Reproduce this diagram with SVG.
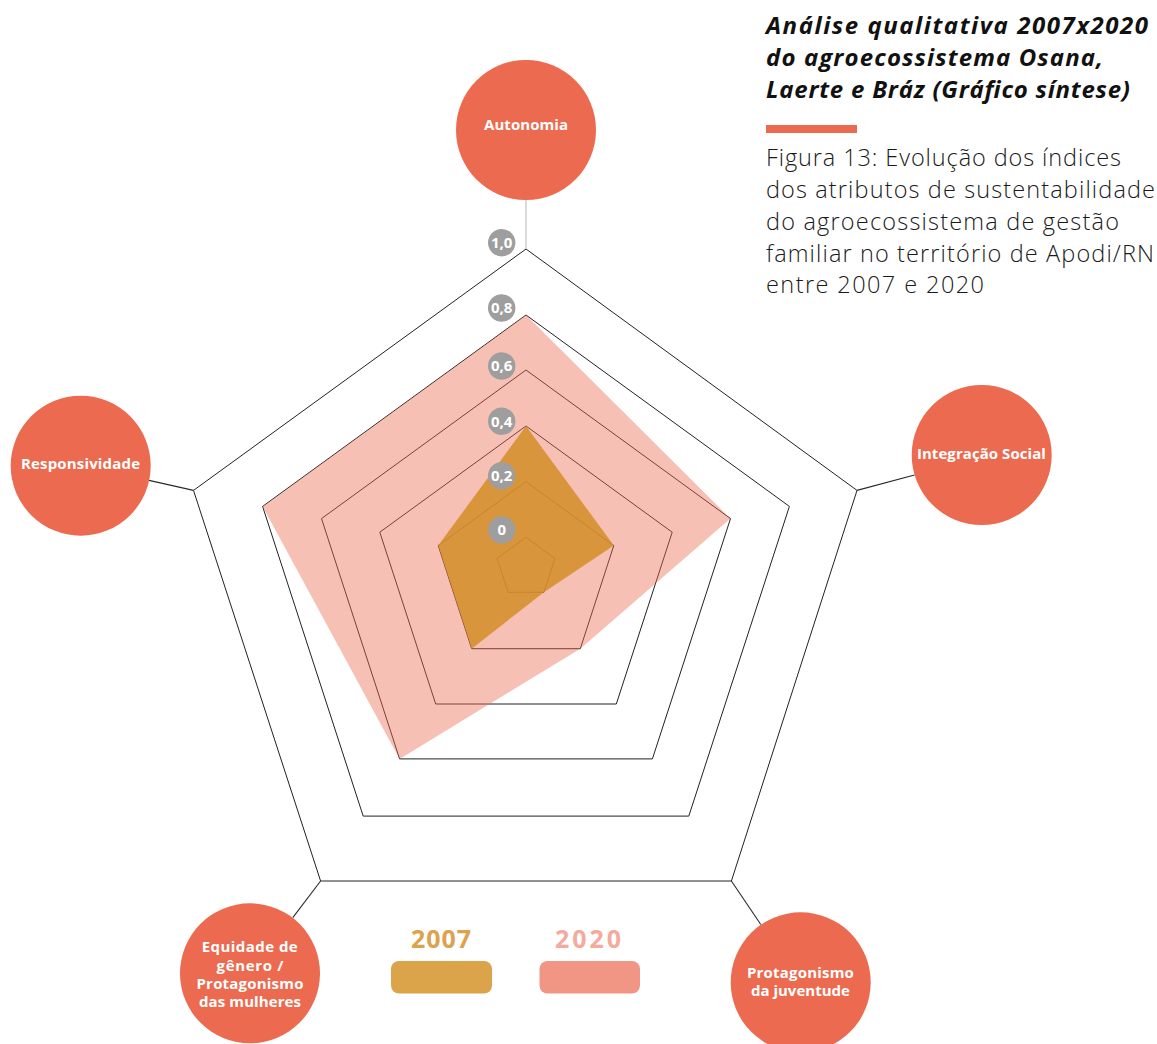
<svg xmlns="http://www.w3.org/2000/svg" width="1157" height="1044" viewBox="0 0 1157 1044">
  <style>
    .node circle { fill: #EC6A4F; }
    .node text { fill: #ffffff; font-family: "Open Sans", "Liberation Sans", sans-serif; font-weight: 700; font-size: 15px; text-anchor: middle; }
    .ring { fill: none; stroke: #222222; stroke-width: 1; stroke-linejoin: miter; }
    .conn { stroke: #2a2a2a; stroke-width: 1.1; fill: none; }
    .badge circle { fill: #9E9E9E; }
    .badge text { fill: #ffffff; font-family: "Open Sans", "Liberation Sans", sans-serif; font-weight: 700; font-size: 15px; text-anchor: middle; }
    .title { font-family: "Open Sans", "Liberation Sans", sans-serif; font-weight: 700; font-style: italic; font-size: 24px; fill: #111111; }
    .sub { font-family: "Open Sans", "Liberation Sans", sans-serif; font-weight: 300; font-size: 23.5px; fill: #1a1a1a; }
    .legend text { font-family: "Open Sans", "Liberation Sans", sans-serif; font-weight: 700; font-size: 25px; text-anchor: middle; }
  </style>

  <rect width="1157" height="1044" fill="#ffffff"/>

  <!-- heading -->
  <g id="heading">
    <text class="title" x="766" y="34" textLength="382">Análise qualitativa 2007x2020</text>
    <text class="title" x="766" y="66" textLength="337">do agroecossistema Osana,</text>
    <text class="title" x="766" y="98" textLength="364">Laerte e Bráz (Gráfico síntese)</text>
    <rect x="766" y="125" width="91" height="8" fill="#EC6A4F"/>
    <text class="sub" x="766" y="166" textLength="355">Figura 13: Evolução dos índices</text>
    <text class="sub" x="766" y="198" textLength="389">dos atributos de sustentabilidade</text>
    <text class="sub" x="766" y="230" textLength="353">do agroecossistema de gestão</text>
    <text class="sub" x="766" y="262" textLength="388">familiar no território de Apodi/RN</text>
    <text class="sub" x="766" y="293" textLength="218">entre 2007 e 2020</text>
  </g>

  <!-- rating grid: one pentagon per level -->
  <g id="grid">
    <polygon class="ring" points="526,537.3 554.9,558.3 543.9,592.3 508.1,592.3 497.1,558.3"/>
    <polygon class="ring" points="526,481.7 613.8,545.5 580.3,648.7 471.7,648.7 438.2,545.5"/>
    <polygon class="ring" points="526,426 672.2,532.2 616.3,704 435.7,704 379.8,532.2"/>
    <polygon class="ring" points="526,370 730.5,518.6 652.4,758.9 399.6,758.9 321.5,518.6"/>
    <polygon class="ring" points="526,315 789.4,506.4 688.8,816.1 363.2,816.1 262.6,506.4"/>
    <polygon class="ring" points="526,249 857,490.4 731.4,881 320.6,881 193.5,490.4"/>
  </g>

  <!-- data series -->
  <g id="series">
    <polygon id="s2020" points="526,315 730.5,518.6 580.3,648.7 399.6,758.9 262.6,506.4" fill="#EA6C52" fill-opacity="0.43"/>
    <polygon id="s2007" points="526,426 613.8,545.5 543.9,592.3 471.7,648.7 438.2,545.5" fill="#D58F29" fill-opacity="0.87"/>
  </g>

  <!-- connectors from the outer ring to the attribute nodes -->
  <g id="connectors">
    <line x1="526" y1="200" x2="526" y2="249" stroke="#BDBDBD" stroke-width="1.1"/>
    <line class="conn" x1="857" y1="490.4" x2="914.5" y2="475"/>
    <line class="conn" x1="193.5" y1="490.4" x2="149" y2="480.4"/>
    <line class="conn" x1="320.6" y1="881" x2="292.8" y2="917.7"/>
    <line class="conn" x1="731.4" y1="881" x2="760.8" y2="924.5"/>
  </g>

  <!-- scale badges -->
  <g id="scale" class="badge">
    <circle cx="501.7" cy="242.7" r="13.7"/><text x="501.7" y="248">1,0</text>
    <circle cx="501.7" cy="308" r="13.7"/><text x="501.7" y="313.3">0,8</text>
    <circle cx="501.7" cy="366" r="13.7"/><text x="501.7" y="371.3">0,6</text>
    <circle cx="501.7" cy="421.3" r="13.7"/><text x="501.7" y="426.6">0,4</text>
    <circle cx="501.7" cy="475.8" r="13.7"/><text x="501.7" y="481.1">0,2</text>
    <circle cx="501.7" cy="530" r="13.7"/><text x="501.7" y="535.3">0</text>
  </g>

  <!-- attribute nodes -->
  <g id="node-autonomia" class="node">
    <circle cx="526" cy="130" r="70"/>
    <text x="526" y="130" textLength="84">Autonomia</text>
  </g>
  <g id="node-integracao" class="node">
    <circle cx="981.7" cy="455" r="70"/>
    <text x="981.4" y="459" textLength="129">Integração Social</text>
  </g>
  <g id="node-juventude" class="node">
    <circle cx="800.7" cy="982.3" r="70"/>
    <text x="800.4" y="978.3" textLength="107">Protagonismo</text>
    <text x="800.4" y="996.3" textLength="99">da juventude</text>
  </g>
  <g id="node-equidade" class="node">
    <circle cx="250" cy="973.3" r="70"/>
    <text x="249.7" y="952.3" textLength="96">Equidade de</text>
    <text x="250" y="970.5" textLength="67">gênero /</text>
    <text x="250" y="988.5" textLength="107">Protagonismo</text>
    <text x="250" y="1006.8" textLength="102">das mulheres</text>
  </g>
  <g id="node-responsividade" class="node">
    <circle cx="80.7" cy="465.7" r="70"/>
    <text x="80.5" y="469" textLength="119">Responsividade</text>
  </g>

  <!-- legend -->
  <g id="legend" class="legend">
    <text x="441" y="947.5" fill="#DCA24C" textLength="60">2007</text>
    <rect x="391" y="961" width="101" height="32.5" rx="8" fill="#DBA34A"/>
    <text x="588" y="947.5" fill="#F5AA9C" textLength="66">2020</text>
    <rect x="539.5" y="961" width="100.5" height="32.5" rx="8" fill="#F19584"/>
  </g>
</svg>
